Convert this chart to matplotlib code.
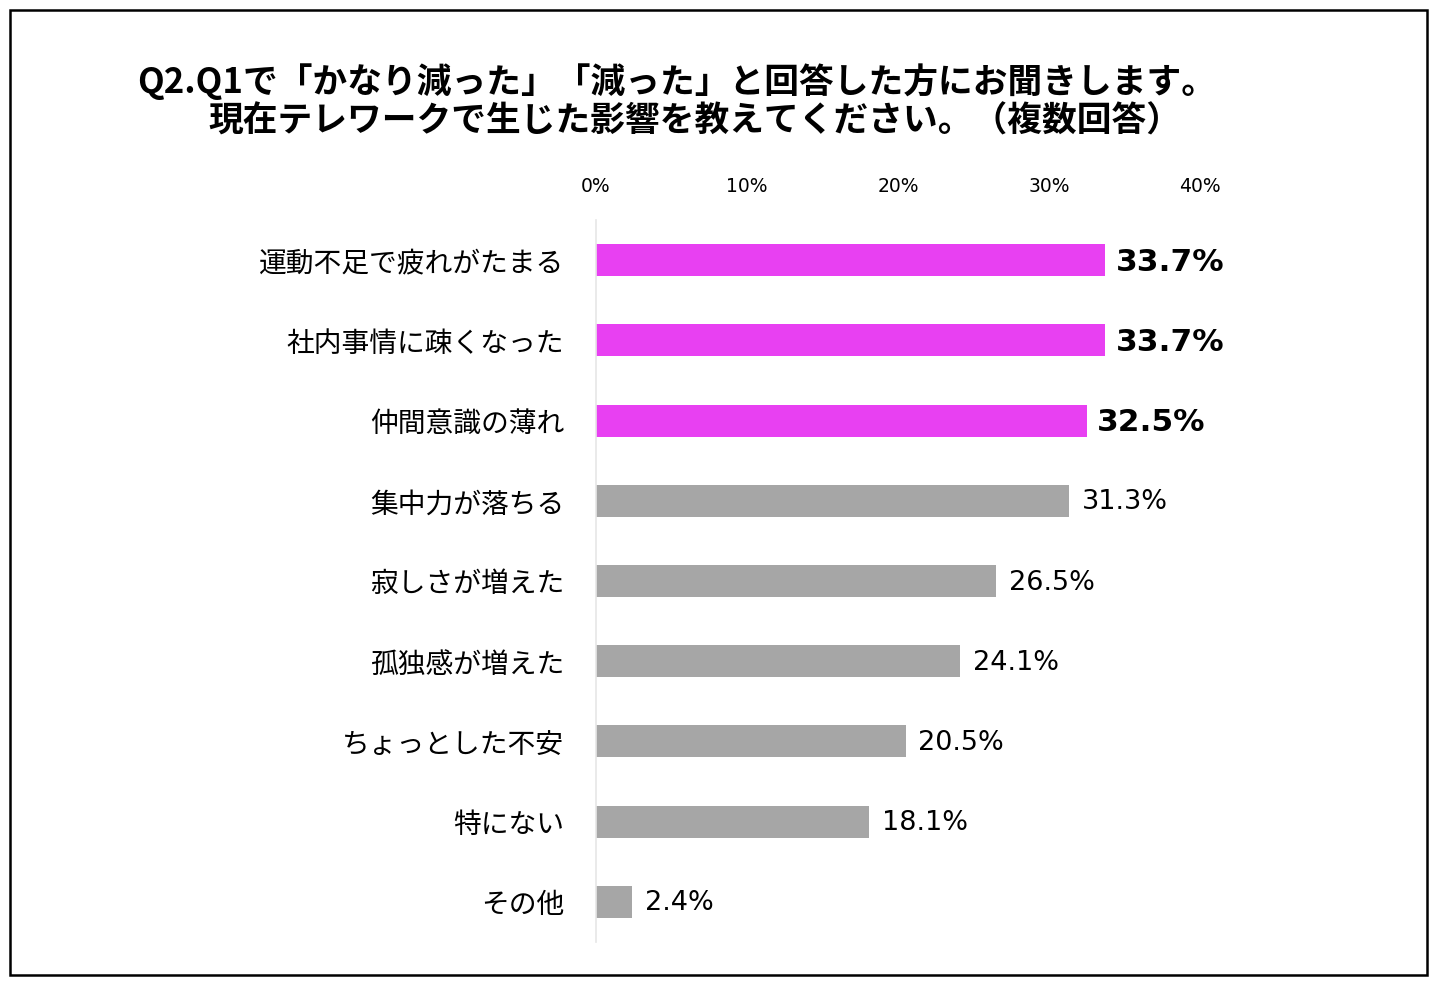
import matplotlib
matplotlib.use("Agg")
import matplotlib.pyplot as plt
from matplotlib.patches import Rectangle

plt.rcParams['font.family'] = ['Noto Sans CJK JP', 'DejaVu Sans']

categories = ["運動不足で疲れがたまる", "社内事情に疎くなった", "仲間意識の薄れ", "集中力が落ちる",
              "寂しさが増えた", "孤独感が増えた", "ちょっとした不安", "特にない", "その他"]
values = [33.7, 33.7, 32.5, 31.3, 26.5, 24.1, 20.5, 18.1, 2.4]
highlight = [True, True, True, False, False, False, False, False, False]
xticks = [0, 10, 20, 30, 40]

PINK = "#E840F2"
GRAY = "#A6A6A6"

fig = plt.figure(figsize=(14.38, 9.86), dpi=100)
W, H = 1438, 986
ax = fig.add_axes([596 / W, 1 - 942 / H, (1200 - 596) / W, (942 - 220) / H])

ypos = list(range(len(categories)))
colors = [PINK if h else GRAY for h in highlight]
ax.barh(ypos, values, height=0.4, color=colors)
ax.set_ylim(len(categories) - 0.5, -0.5)
ax.set_xlim(0, 40)

for y, v, h in zip(ypos, values, highlight):
    if h:
        ax.text(v + 0.7, y + 0.03, f"{v:.1f}%", va="center", ha="left", fontsize=22.5,
                fontweight="bold", family="DejaVu Sans")
    else:
        ax.text(v + 0.85, y + 0.02, f"{v:.1f}%", va="center", ha="left", fontsize=19.5,
                family="DejaVu Sans")

ax.xaxis.tick_top()
ax.set_xticks(xticks)
ax.set_xticklabels([f"{t}%" for t in xticks], fontsize=13.5, family="DejaVu Sans")
ax.tick_params(axis="x", length=0, pad=17)
ax.set_yticks(ypos)
ax.set_yticklabels(categories, fontsize=20)
ax.tick_params(axis="y", length=0, pad=23)
for s in ["top", "right", "bottom"]:
    ax.spines[s].set_visible(False)
ax.spines["left"].set_color("#E6E6E6")
ax.spines["left"].set_linewidth(1.2)

fig.text(677 / W, 1 - 82 / H, "Q2.Q1で「かなり減った」「減った」と回答した方にお聞きします。",
         ha="center", va="center", fontsize=25, fontweight="bold")
fig.text(695 / W, 1 - 121 / H, "現在テレワークで生じた影響を教えてください。（複数回答）",
         ha="center", va="center", fontsize=25, fontweight="bold")

fig.add_artist(Rectangle((10 / W, 1 - 975 / H), (1427 - 10) / W, (975 - 10) / H,
                         transform=fig.transFigure, fill=False, edgecolor="black", linewidth=1.8))

fig.savefig("out.png", dpi=100)
